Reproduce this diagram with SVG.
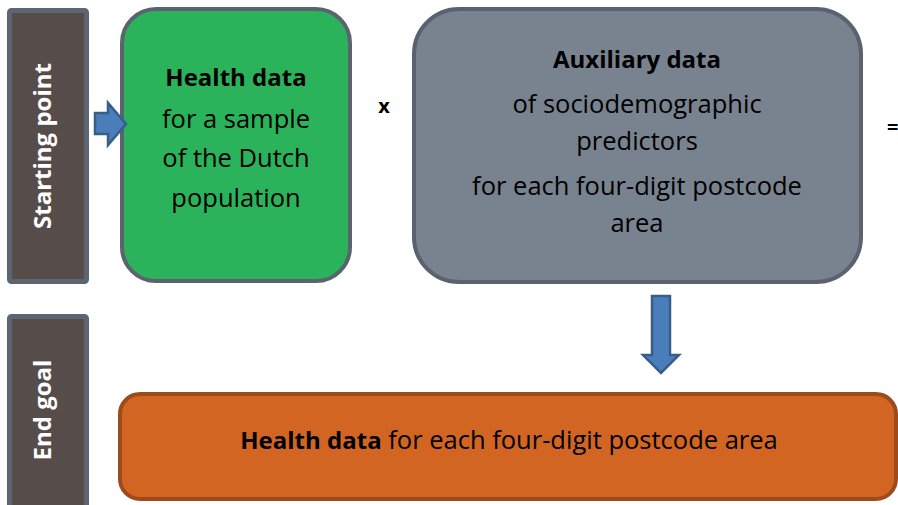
<svg xmlns="http://www.w3.org/2000/svg" width="898" height="505" viewBox="0 0 898 505">
  <style>
    .side { fill: #564d4a; stroke: #5c6673; stroke-width: 5; }
    .side-label { font-family: "Open Sans", "Liberation Sans", sans-serif; font-weight: bold; font-size: 24px; fill: #ffffff; text-anchor: middle; }
    .box-text { font-family: "Open Sans", "Liberation Sans", sans-serif; font-size: 25.5px; fill: #000000; text-anchor: middle; }
    .title { font-weight: bold; font-size: 24px; }
    .op { font-family: "Open Sans", "Liberation Sans", sans-serif; font-weight: bold; font-size: 20px; fill: #000000; }
    .arrow { fill: #4a7ebb; stroke: #385d8a; stroke-width: 2.5; stroke-linejoin: miter; }
  </style>

  <rect width="898" height="505" fill="#ffffff"/>

  <!-- Row labels -->
  <g id="label-start">
    <rect class="side" x="9.5" y="10.5" width="77" height="271" rx="2"/>
    <text class="side-label" transform="translate(51 146) rotate(-90)">Starting point</text>
  </g>
  <g id="label-end">
    <rect class="side" x="9.5" y="316.5" width="77" height="200" rx="2"/>
    <text class="side-label" transform="translate(51 410) rotate(-90)">End goal</text>
  </g>

  <!-- Input: health data -->
  <g id="health-sample">
    <rect x="122" y="9" width="228" height="272" rx="34" fill="#2bb35b" stroke="#5b636e" stroke-width="4"/>
    <text class="box-text title" x="236" y="86">Health data</text>
    <text class="box-text" x="236" y="128">for a sample</text>
    <text class="box-text" x="236" y="167">of the Dutch</text>
    <text class="box-text" x="236" y="207">population</text>
  </g>

  <!-- Input: auxiliary data -->
  <g id="auxiliary">
    <rect x="414" y="9" width="447" height="273" rx="45" fill="#79838f" stroke="#5a626f" stroke-width="4"/>
    <text class="box-text title" x="637" y="68">Auxiliary data</text>
    <text class="box-text" x="637" y="113">of sociodemographic</text>
    <text class="box-text" x="637" y="150">predictors</text>
    <text class="box-text" x="637" y="195">for each four-digit postcode</text>
    <text class="box-text" x="637" y="232">area</text>
  </g>

  <!-- Result -->
  <g id="health-postcode">
    <rect x="120" y="394" width="776" height="105" rx="20" fill="#d26522" stroke="#9d4b1b" stroke-width="4"/>
    <text class="box-text" x="509" y="449"><tspan class="title">Health data</tspan> for each four-digit postcode area</text>
  </g>

  <!-- Operators -->
  <g id="operators">
    <text class="op" x="384" y="113" text-anchor="middle">x</text>
    <text class="op" x="887" y="134">=</text>
  </g>

  <!-- Connectors -->
  <g id="connectors">
    <polygon class="arrow" points="95,113 108,113 108,103 126,124 108,145 108,134 95,134"/>
    <polygon class="arrow" points="652,296 670,296 670,355 679,355 661,373 643,355 652,355"/>
  </g>
</svg>
